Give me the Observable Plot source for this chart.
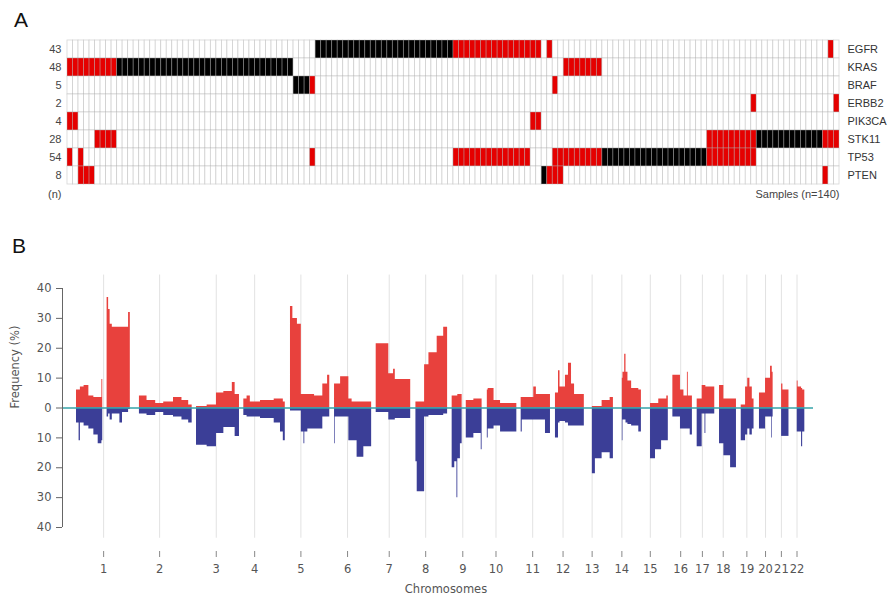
<!DOCTYPE html>
<html><head><meta charset="utf-8">
<script src="https://cdn.jsdelivr.net/npm/d3@7"></script>
<script src="https://cdn.jsdelivr.net/npm/@observablehq/plot@0.6"></script>
<style>
body{margin:0;background:#fff;}
#wrap{position:relative;width:887px;height:599px;overflow:hidden;font-family:"Liberation Sans",Arial,sans-serif;}
.panel{position:absolute;left:0;}
.tag{position:absolute;font-size:21px;line-height:21px;color:#111;}
</style></head><body>
<div id="wrap">
<div id="pa" class="panel" style="top:0"></div>
<div id="pb" class="panel" style="top:250px"></div>
<div class="tag" style="left:14px;top:9px">A</div>
<div class="tag" style="left:12px;top:235px">B</div>
</div>
<script>
// ---------- Panel A data ----------
const genes = ["EGFR","KRAS","BRAF","ERBB2","PIK3CA","STK11","TP53","PTEN"];
const geneCounts = [43,48,5,2,4,28,54,8];
const nSamples = 140;
// [gene, firstSample, lastSample]  (black cells)
const primaryRuns = [
  ["EGFR",45,69],["KRAS",9,40],["BRAF",41,43],["STK11",125,136],["TP53",97,115],["PTEN",86,86]
];
// (red cells)
const secondaryRuns = [
  ["EGFR",70,85],["EGFR",87,87],["EGFR",138,138],
  ["KRAS",0,8],["KRAS",90,96],
  ["BRAF",44,44],["BRAF",88,88],
  ["ERBB2",124,124],["ERBB2",139,139],
  ["PIK3CA",0,1],["PIK3CA",84,85],
  ["STK11",5,8],["STK11",116,124],["STK11",137,139],
  ["TP53",0,0],["TP53",2,2],["TP53",44,44],["TP53",70,83],["TP53",88,96],["TP53",116,124],
  ["PTEN",2,4],["PTEN",87,89],["PTEN",137,137]
];

// ---------- Panel B data ----------
const chroms = ["1","2","3","4","5","6","7","8","9","10","11","12","13","14","15","16","17","18","19","20","21","22"];
const chromOffset = [0,290,553,771,986,1189,1381,1564,1731,1893,2049,2207,2359,2496,2625,2748,2860,2963,3063,3147,3235,3305]; // Mb, plotted genome position
const centromere = [125,93,91,50,48,60,60,45,49,40,53,35,17,17,19,36,24,17,26,28,13,15]; // Mb
const yTicks = [-40,-30,-20,-10,0,10,20,30,40];
// [chromosome, startMb, endMb, gain %, loss %]
const cnSegments = [
  ["1",0,12,6,5],["1",12,18,6,11],["1",18,35,7,5],["1",35,57,7.5,6],["1",57,80,4,7],["1",80,100,3.5,9],["1",100,117,3.5,12],["1",117,121,9.5,11],
  ["1",141,148,37,3],["1",148,155,33,2],["1",155,165,28,4],["1",165,200,27,2],["1",200,212,27,5],["1",212,240,27,1.5],["1",240,248,32,0.5],
  ["2",0,35,4,2],["2",35,75,2.5,2.5],["2",75,112,1.5,1.5],["2",112,157,2,2.5],["2",157,196,3.5,3],["2",196,227,2.5,4],["2",227,243,1,5],
  ["3",0,49,0.5,12.5],["3",49,92,1,13],["3",92,126,5,8.5],["3",126,165,5.5,6.5],["3",165,178,8.5,6.5],["3",178,198,4.5,9.5],
  ["4",0,15,3,2.5],["4",15,30,4,3],["4",30,77,2,3],["4",77,140,2.5,3.5],["4",140,169,3,5],["4",169,182,3,8],["4",182,191,2,11],
  ["5",0,11,34,1],["5",11,32,30,1],["5",32,50,28,1],["5",50,62,4.5,8],["5",62,66,4.5,12],["5",66,80,4.5,8],["5",80,111,4.5,7],["5",111,149,4,7],["5",149,171,8,3],["5",171,181,11,3],
  ["6",0,3,8,12],["6",3,28,8,3],["6",28,66,10.5,3],["6",66,81,3,11],["6",81,104,2,11],["6",104,135,2,16.5],["6",135,171,2,13],
  ["7",0,58,21.5,1.5],["7",58,80,11.5,4],["7",80,88,13,4],["7",88,159,9.5,3.5],
  ["8",0,6,2,18],["8",6,40,2,28],["8",40,60,14.5,3],["8",60,98,18.5,2.5],["8",98,128,24,2.5],["8",128,146,27,2],
  ["9",0,12,4,20],["9",12,22,4,18],["9",22,26,4,30],["9",26,38,4.5,17],["9",38,46,4.5,12],
  ["9",65,100,2.5,10],["9",100,134,3,8.5],["9",134,138,3,14],
  ["10",0,4,6,10],["10",4,31,6.5,7],["10",31,61,2.5,6],["10",61,136,1.5,8],
  ["11",0,5,3.5,8],["11",5,58,3.5,4],["11",58,70,7,4],["11",70,112,4.5,4],["11",112,135,4.5,8.5],
  ["12",0,14,5,10],["12",14,21,12.5,5],["12",21,46,7,4.5],["12",46,60,11,5],["12",60,74,15,6],["12",74,88,8,6],["12",88,133,4.5,6],
  ["13",18,32,0.5,22],["13",32,63,0.5,17],["13",63,100,2.5,15],["13",100,115,3.5,17],
  ["14",19,22,10,11],["14",22,30,12,4],["14",30,36,18,4],["14",36,45,12,5],["14",45,62,9,5.5],["14",62,95,6.5,6],["14",95,107,6,8],
  ["15",20,43,1.5,17],["15",43,58,1.5,14],["15",58,71,3,14],["15",71,95,3,11],["15",95,102,4,11],
  ["16",0,35,11,3],["16",35,51,6,7],["16",51,67,4,7],["16",67,71,12,7],["16",71,80,4,7],["16",80,90,4,9],
  ["17",0,23,3,13],["17",23,36,7.5,2],["17",36,40,7.5,8.5],["17",40,81,7,2],
  ["18",0,20,7.5,12],["18",20,51,3,16],["18",51,78,3,20],
  ["19",0,20,1,11],["19",20,30,7,9],["19",30,40,10,7],["19",40,51,7,9],["19",51,59,3,7],
  ["20",0,28,5,7],["20",28,51,10,3],["20",51,56,14,3],["20",56,59,14,10],["20",59,63,12,3],
  ["21",14,20,8,9.5],["21",20,48,6,9.5],
  ["22",16,20,9,8],["22",20,36,7,8],["22",36,41,6.5,13],["22",41,51,6,8]
];

// ---------- Panel A ----------
const status = new Map();
for (const [g,a,b] of secondaryRuns) for (let s=a;s<=b;s++) status.set(g+"|"+s,"secondary");
for (const [g,a,b] of primaryRuns) for (let s=a;s<=b;s++) status.set(g+"|"+s,"primary");
const cells = genes.flatMap(g => d3.range(nSamples).map(s => ({gene:g, sample:s, kind: status.get(g+"|"+s) ?? "none"})));
const countByGene = new Map(genes.map((g,i)=>[g, geneCounts[i]]));

const plotA = Plot.plot({
  width:887, height:230,
  marginTop:39, marginBottom:46, marginLeft:67, marginRight:48,
  style:{fontFamily:"'Liberation Sans', Arial, sans-serif", fontSize:"11px", background:"transparent", color:"#444"},
  x:{type:"band", domain:d3.range(nSamples), padding:0, axis:null},
  y:{type:"band", domain:genes, padding:0, axis:null, label:null},
  color:{domain:["none","secondary","primary"], range:["#ffffff","#e50000","#000000"]},
  marks:[
    Plot.cell(cells,{x:"sample", y:"gene", fill:"kind", stroke:"#b0b0b0", strokeOpacity:0.5, strokeWidth:0.8, inset:0}),
    Plot.axisY({anchor:"left", tickSize:0, tickPadding:6, tickFormat:g=>countByGene.get(g), fill:"#444", fontSize:11, label:null}),
    Plot.axisY({anchor:"right", tickSize:0, tickPadding:8, fill:"#333", fontSize:11, label:null}),
    Plot.text(["(n)"],{text:d=>d, frameAnchor:"bottom-left", textAnchor:"end", dx:-6, dy:13, fill:"#444", fontSize:11}),
    Plot.text([`Samples (n=${nSamples})`],{text:d=>d, frameAnchor:"bottom-right", textAnchor:"end", dy:13, fill:"#444", fontSize:11})
  ]
});
document.getElementById("pa").appendChild(plotA);

// ---------- Panel B ----------
const offByChrom = new Map(chroms.map((c,i)=>[c, chromOffset[i]]));
const centroPos = chroms.map((c,i)=>chromOffset[i]+centromere[i]);
const labelByPos = new Map(centroPos.map((p,i)=>[p, chroms[i]]));
const points = [];
let block = 0, prev = null;
for (const [c,s,e,g,l] of cnSegments) {
  const off = offByChrom.get(c);
  if (!prev || prev[0] !== c || prev[2] !== s) {
    if (prev) points.push({x: offByChrom.get(prev[0])+prev[2], gain: prev[3], loss: prev[4], block});
    block++;
  }
  points.push({x: off+s, gain: g, loss: l, block});
  prev = [c,s,e,g,l];
}
points.push({x: offByChrom.get(prev[0])+prev[2], gain: prev[3], loss: prev[4], block});

const xMin = -64.5, xMax = 3396;
const plotB = Plot.plot({
  width:887, height:349,
  marginTop:15, marginBottom:48, marginLeft:62, marginRight:74,
  style:{fontFamily:"'DejaVu Sans', Verdana, sans-serif", fontSize:"11.5px", background:"transparent", color:"#555"},
  x:{domain:[xMin, xMax], axis:null},
  y:{domain:[-40,40], range:[277,38], axis:null},
  marks:[
    Plot.ruleX(centroPos,{x:d=>d, y1:44.5, y2:-43.6, stroke:"#e2e2e2", strokeWidth:1}),
    Plot.area(points,{x1:"x", y1:0, y2:"gain", z:"block", curve:"step-after", fill:"#e8413d"}),
    Plot.area(points,{x1:"x", y1:0, y2:d=>-d.loss, z:"block", curve:"step-after", fill:"#3b3e97"}),
    Plot.ruleY([0],{stroke:"#35a3a8", strokeWidth:1.3}),
    Plot.ruleX([xMin],{y1:d3.min(yTicks), y2:d3.max(yTicks), stroke:"#666"}),
    Plot.axisY({anchor:"left", ticks:yTicks, tickFormat:d=>Math.abs(d), tickSize:6, tickPadding:5, fill:"#555", stroke:"#666", fontSize:11.5, label:null}),
    Plot.axisX({anchor:"bottom", ticks:centroPos, tickFormat:d=>labelByPos.get(d), tickSize:6, tickPadding:7, fill:"#555", stroke:"#888", fontSize:11.5, label:null}),
    Plot.text(["Frequency (%)"],{text:d=>d, frameAnchor:"left", rotate:-90, dx:-47, fill:"#555", fontSize:11.5}),
    Plot.text(["Chromosomes"],{text:d=>d, frameAnchor:"bottom", dx:8, dy:41, fill:"#555", fontSize:11.5})
  ]
});
document.getElementById("pb").appendChild(plotB);
</script>
</body></html>
